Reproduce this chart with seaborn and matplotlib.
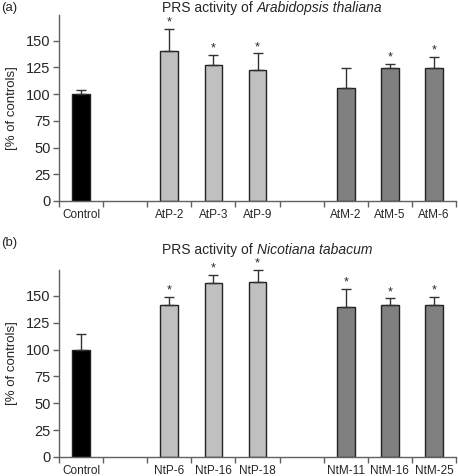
import matplotlib
matplotlib.use("Agg")
import matplotlib.pyplot as plt
import seaborn as sns
import pandas as pd
import numpy as np

sns.set_style("white")
plt.rcParams['font.family'] = ['Liberation Sans', 'DejaVu Sans']

# slots along the x axis (blank slots are spacers between groups)
slots_a = ["Control", "gap1", "AtP-2", "AtP-3", "AtP-9", "gap2", "AtM-2", "AtM-5", "AtM-6"]
names_a = ["Control", "AtP-2", "AtP-3", "AtP-9", "AtM-2", "AtM-5", "AtM-6"]
values_a = [100, 140, 127.5, 123, 106, 124, 124]
errors_a = [3.5, 21, 9.5, 15, 18, 4.5, 11]
signif_a = [False, True, True, True, False, True, True]

slots_b = ["Control", "gap1", "NtP-6", "NtP-16", "NtP-18", "gap2", "NtM-11", "NtM-16", "NtM-25"]
names_b = ["Control", "NtP-6", "NtP-16", "NtP-18", "NtM-11", "NtM-16", "NtM-25"]
values_b = [100, 141, 161.5, 163, 139.5, 141, 141]
errors_b = [14, 8, 7.5, 11, 17, 6.5, 7.5]
signif_b = [False, True, True, True, True, True, True]

group_colors = ["#000000", "#c0c0c0", "#c0c0c0", "#c0c0c0", "#808080", "#808080", "#808080"]

fig = plt.figure(figsize=(4.58, 4.76), dpi=100)
W, H = 458, 476


def px_axes(x0, x1, ytop, ybot):
    return fig.add_axes([x0 / W, 1 - ybot / H, (x1 - x0) / W, (ybot - ytop) / H])


def draw_panel(ax, slots, names, values, errors, signif, species, letter, ytitle, yletter):
    df = pd.DataFrame({"line": names, "value": values})
    sns.barplot(data=df, x="line", y="value", order=slots, hue="line",
                palette=dict(zip(names, group_colors)), legend=False,
                width=0.4, edgecolor="#222222", linewidth=1.0, ax=ax)
    pos = [slots.index(n) for n in names]
    ax.errorbar(pos, values, yerr=[np.zeros(len(errors)), errors], fmt="none",
                ecolor="#333333", elinewidth=1.0, capsize=3.3, capthick=1.0,
                clip_on=False)
    for p, v, e, s in zip(pos, values, errors, signif):
        if s:
            ax.text(p, v + e + 0.5, "*", ha="center", va="bottom", fontsize=9,
                    clip_on=False)

    ax.set_xlim(-0.5, len(slots) - 0.5)
    ax.set_ylim(0, 174)
    ax.set_yticks([0, 25, 50, 75, 100, 125, 150])
    ax.tick_params(axis="y", labelsize=10.5, length=4, width=1.0,
                   color="#606060", left=True, pad=2)
    # ticks on slot boundaries, labels at slot centres
    ax.set_xticks(np.arange(-0.5, len(slots), 1.0))
    ax.set_xticklabels([])
    ax.set_xticks(pos, minor=True)
    ax.set_xticklabels(names, minor=True)
    ax.tick_params(axis="x", which="major", length=4, width=1.0,
                   color="#606060", bottom=True, direction="out")
    ax.tick_params(axis="x", which="minor", length=0, labelsize=8.5, pad=6)
    ax.set_xlabel("")
    ax.set_ylabel("[% of controls]", fontsize=9.5, labelpad=6)
    for side in ["top", "right"]:
        ax.spines[side].set_visible(False)
    for side in ["left", "bottom"]:
        ax.spines[side].set_color("#606060")
        ax.spines[side].set_linewidth(1.0)

    fig.text(257 / W, 1 - ytitle / H, "PRS activity of ", ha="right",
             va="center", fontsize=10)
    fig.text(257 / W, 1 - ytitle / H, species, ha="left", va="center",
             fontsize=10, style="italic")
    fig.text(1 / W, 1 - yletter / H, letter, ha="left", va="center", fontsize=9.5)


ax_a = px_axes(59, 456, 15, 201)
ax_b = px_axes(59, 456, 270, 457)

draw_panel(ax_a, slots_a, names_a, values_a, errors_a, signif_a,
           "Arabidopsis thaliana", "(a)", 8, 8)
draw_panel(ax_b, slots_b, names_b, values_b, errors_b, signif_b,
           "Nicotiana tabacum", "(b)", 250, 243)

fig.savefig("out.png", dpi=100)
